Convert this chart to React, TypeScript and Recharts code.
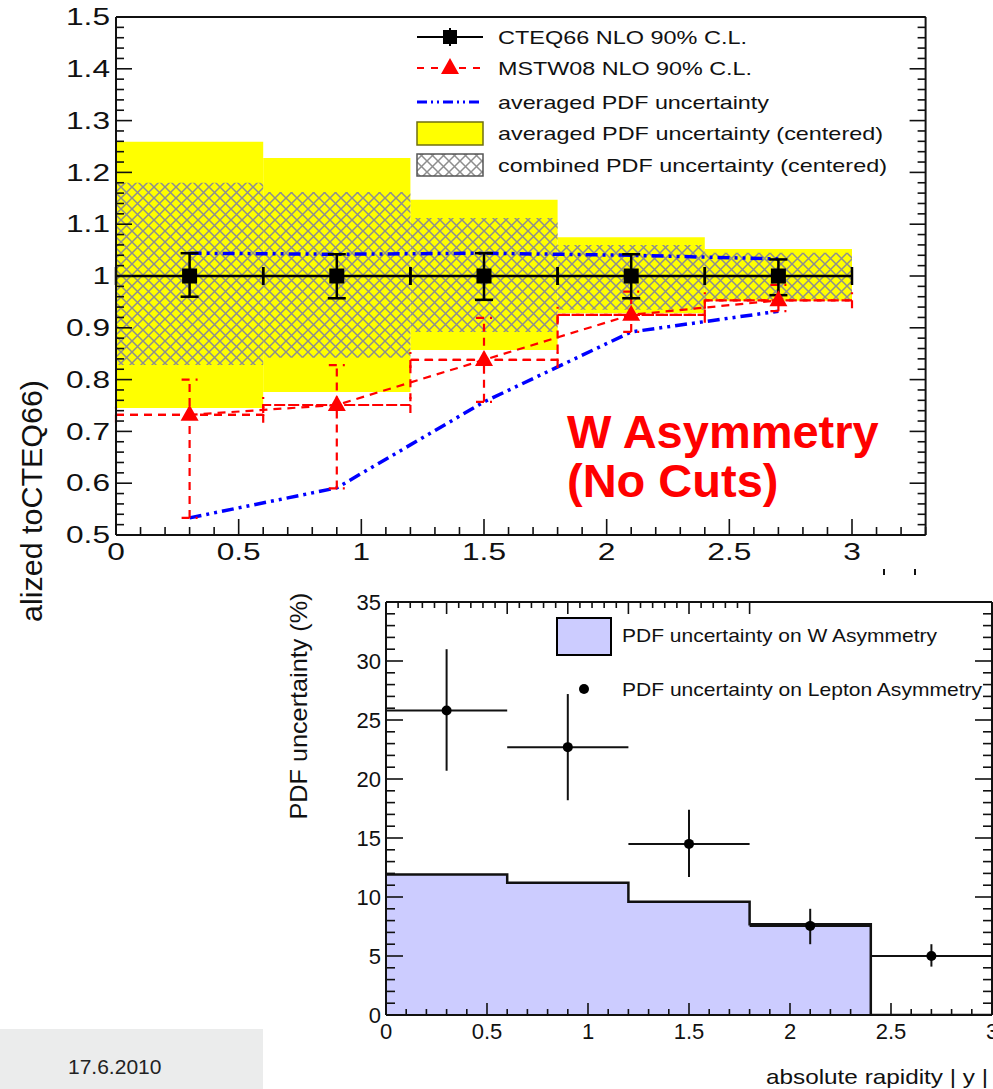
import React from 'react';
import {
  ComposedChart,
  Line,
  Scatter,
  ErrorBar,
  XAxis,
  YAxis,
  ReferenceArea,
  Area,
  Legend,
} from 'recharts';

const FONT = '"Liberation Sans", Arial, Helvetica, sans-serif';

// rapidity bins
const binEdges = [0, 0.6, 1.2, 1.8, 2.4, 3.0];
const binCenters = [0.3, 0.9, 1.5, 2.1, 2.7];
const binHalfWidth = [0.3, 0.3, 0.3, 0.3, 0.3];

// upper panel: W asymmetry normalised to CTEQ66
const cteqRatio = [1, 1, 1, 1, 1];
const cteqHigh = [1.044, 1.042, 1.044, 1.042, 1.032];
const cteqLow = [0.96, 0.957, 0.954, 0.957, 0.963];
const mstwRatio = [0.732, 0.751, 0.838, 0.925, 0.953];
const mstwHigh = [0.8, 0.828, 0.919, 0.97, 0.983];
const mstwLow = [0.533, 0.59, 0.757, 0.892, 0.932];
const avgUncHigh = [1.044, 1.042, 1.044, 1.04, 1.033];
const avgUncLow = [0.533, 0.591, 0.757, 0.892, 0.932];
const avgCenteredHigh = [1.259, 1.228, 1.147, 1.075, 1.052];
const avgCenteredLow = [0.745, 0.776, 0.857, 0.928, 0.952];
const combCenteredHigh = [1.18, 1.162, 1.112, 1.06, 1.045];
const combCenteredLow = [0.828, 0.842, 0.892, 0.935, 0.955];

// lower panel: PDF uncertainty in percent
const wAsymUnc = [11.9, 11.2, 9.6, 7.7, 0];
const leptonUnc = [25.8, 22.7, 14.5, 7.55, 5.0];
const leptonUncHigh = [31.0, 27.2, 17.4, 9.0, 6.0];
const leptonUncLow = [20.7, 18.2, 11.7, 6.0, 4.1];

// labelled (major) tick values
const topXMajor = [0, 0.5, 1, 1.5, 2, 2.5, 3];
const topYMajor = [0.5, 0.6, 0.7, 0.8, 0.9, 1, 1.1, 1.2, 1.3, 1.4, 1.5];
const botXMajor = [0, 0.5, 1, 1.5, 2, 2.5, 3];
const botYMajor = [0, 5, 10, 15, 20, 25, 30, 35];

const fineTicks = (lo: number, hi: number, step: number) => {
  const n = Math.round((hi - lo) / step);
  return Array.from({ length: n + 1 }, (_, i) => Number((lo + i * step).toFixed(4)));
};

const topXTicks = fineTicks(0, 3.3, 0.1);
const topYTicks = fineTicks(0.5, 1.5, 0.02);
const botXTicks = fineTicks(0, 3, 0.1);
const botYTicks = fineTicks(0, 35, 1);

// series tables built from the arrays above
const cteqPoints = binCenters.map((x, i) => ({
  x,
  y: cteqRatio[i],
  ey: [cteqRatio[i] - cteqLow[i], cteqHigh[i] - cteqRatio[i]],
  ex: binHalfWidth[i],
}));
const mstwPoints = binCenters.map((x, i) => ({
  x,
  y: mstwRatio[i],
  ey: [mstwRatio[i] - mstwLow[i], mstwHigh[i] - mstwRatio[i]],
  ex: binHalfWidth[i],
}));
const mstwSteps = binEdges.map((x, i) => ({ x, y: mstwRatio[Math.min(i, mstwRatio.length - 1)] }));
const avgHighLine = binCenters.map((x, i) => ({ x, y: avgUncHigh[i] }));
const avgLowLine = binCenters.map((x, i) => ({ x, y: avgUncLow[i] }));

const wAsymHist = binEdges.map((x, i) => ({ x, y: wAsymUnc[Math.min(i, wAsymUnc.length - 1)] }));
const leptonPoints = binCenters.map((x, i) => ({
  x,
  y: leptonUnc[i],
  ey: [leptonUnc[i] - leptonUncLow[i], leptonUncHigh[i] - leptonUnc[i]],
  ex: binHalfWidth[i],
}));

type Side = 'left' | 'right' | 'top' | 'bottom';
interface TickStyle {
  side: Side;
  majors: number[];
  majorLen: number;
  minorLen: number;
  label?: { size: number; stretch: number; gap: number; dy?: number };
}

// ROOT-style ticks: drawn inwards from the frame, labels only on major ticks
const makeTick = (s: TickStyle) => (props: any) => {
  const { x, y, payload } = props;
  const v = Number(payload.value);
  const major = s.majors.some((m) => Math.abs(m - v) < 1e-6);
  const len = major ? s.majorLen : s.minorLen;
  let x2 = x;
  let y2 = y;
  if (s.side === 'left') x2 = x + len;
  if (s.side === 'right') x2 = x - len;
  if (s.side === 'bottom') y2 = y - len;
  if (s.side === 'top') y2 = y + len;
  let label = null;
  if (major && s.label) {
    const text = String(Number(v.toFixed(2)));
    const lx = s.side === 'left' ? x - s.label.gap : x;
    const ly = (s.side === 'bottom' ? y + s.label.gap : y) + (s.label.dy || 0);
    label = (
      <g transform={`translate(${lx},${ly}) scale(${s.label.stretch},1)`}>
        <text
          x={0}
          y={0}
          textAnchor={s.side === 'left' ? 'end' : 'middle'}
          dominantBaseline="central"
          fontSize={s.label.size}
          fontFamily={FONT}
          fill="#111"
        >
          {text}
        </text>
      </g>
    );
  }
  return (
    <g>
      <line x1={x} y1={y} x2={x2} y2={y2} stroke="#111" strokeWidth={1.6} />
      {label}
    </g>
  );
};

const frame = { stroke: '#111', strokeWidth: 2 };

const redTriangle = (p: any) => (
  <polygon
    points={`${p.cx},${p.cy - 10} ${p.cx - 9},${p.cy + 6} ${p.cx + 9},${p.cy + 6}`}
    fill="#ff0000"
  />
);
const blackSquare = (p: any) => <rect x={p.cx - 7.5} y={p.cy - 7.5} width={15} height={15} fill="#000" />;
const blackDot = (p: any) => <circle cx={p.cx} cy={p.cy} r={5} fill="#000" />;

const legendText = (x: number, y: number, w: number, size: number, s: string) => (
  <text
    x={x}
    y={y}
    dominantBaseline="central"
    fontSize={size}
    fontFamily={FONT}
    fill="#111"
    textLength={w}
    lengthAdjust="spacingAndGlyphs"
  >
    {s}
  </text>
);

const TopLegendBox = () => (
  <svg width={500} height={170} style={{ display: 'block', overflow: 'visible' }}>
    <line x1={12} y1={19} x2={78} y2={19} stroke="#000" strokeWidth={2} />
    <line x1={45} y1={10} x2={45} y2={28} stroke="#000" strokeWidth={2} />
    <rect x={38} y={12} width={14} height={14} fill="#000" />
    {legendText(93, 19, 249, 19, 'CTEQ66 NLO 90% C.L.')}

    <line x1={12} y1={50} x2={78} y2={50} stroke="#ff0000" strokeWidth={2} strokeDasharray="7 7" />
    <polygon points="45,40 36,56 54,56" fill="#ff0000" />
    {legendText(93, 50, 254, 19, 'MSTW08 NLO 90% C.L.')}

    <line x1={12} y1={84} x2={78} y2={84} stroke="#0000ff" strokeWidth={3} strokeDasharray="10 4 2 4 2 4" />
    {legendText(93, 84, 271, 19, 'averaged PDF uncertainty')}

    <rect x={12} y={104} width={66} height={23} fill="#ffff00" stroke="#6f6f10" strokeWidth={1.5} />
    {legendText(93, 115, 385, 19, 'averaged PDF uncertainty (centered)')}

    <rect x={12} y={136} width={66} height={22} fill="#fff" />
    <rect x={12} y={136} width={66} height={22} fill="url(#xhatch)" stroke="#555" strokeWidth={1.5} />
    {legendText(93, 147, 389, 19, 'combined PDF uncertainty (centered)')}
  </svg>
);

const BottomLegendBox = () => (
  <svg width={450} height={100} style={{ display: 'block', overflow: 'visible' }}>
    <rect x={10} y={10} width={54} height={37} fill="#ccccff" stroke="#000" strokeWidth={2} />
    {legendText(75, 27, 315, 19, 'PDF uncertainty on W Asymmetry')}
    <circle cx={37} cy={81} r={5} fill="#000" />
    {legendText(75, 81, 360, 19, 'PDF uncertainty on Lepton Asymmetry')}
  </svg>
);

const TOP_W = 993;
const TOP_H = 640;

const TopChart = () => (
  <ComposedChart
    width={TOP_W}
    height={TOP_H}
    margin={{ top: 16, right: TOP_W - 925.6 - 1, bottom: TOP_H - 535 - 1, left: 0 }}
  >
    <XAxis
      type="number"
      dataKey="x"
      domain={[0, 3.3]}
      allowDataOverflow
      ticks={topXTicks}
      interval={0}
      tickSize={0}
      tickMargin={0}
      tickLine={false}
      axisLine={frame}
      height={1}
      tick={makeTick({ side: 'bottom', majors: topXMajor, majorLen: 16, minorLen: 8, label: { size: 24, stretch: 1.32, gap: 17 } })}
    />
    <XAxis
      xAxisId="mt"
      orientation="top"
      type="number"
      domain={[0, 3.3]}
      allowDataOverflow
      ticks={topXTicks}
      interval={0}
      tickSize={0}
      tickMargin={0}
      tickLine={false}
      axisLine={frame}
      height={1}
      tick={makeTick({ side: 'top', majors: topXMajor, majorLen: 16, minorLen: 8 })}
    />
    <YAxis
      type="number"
      domain={[0.5, 1.5]}
      allowDataOverflow
      ticks={topYTicks}
      interval={0}
      tickSize={0}
      tickMargin={0}
      tickLine={false}
      axisLine={frame}
      width={116}
      tick={makeTick({ side: 'left', majors: topYMajor, majorLen: 16, minorLen: 8, label: { size: 24, stretch: 1.32, gap: 6 } })}
    />
    <YAxis
      yAxisId="mr"
      orientation="right"
      type="number"
      domain={[0.5, 1.5]}
      allowDataOverflow
      ticks={topYTicks}
      interval={0}
      tickSize={0}
      tickMargin={0}
      tickLine={false}
      axisLine={frame}
      width={1}
      tick={makeTick({ side: 'right', majors: topYMajor, majorLen: 16, minorLen: 8 })}
    />

    {binCenters.map((_, i) => (
      <ReferenceArea
        key={`avg-${i}`}
        x1={binEdges[i]}
        x2={binEdges[i + 1]}
        y1={avgCenteredLow[i]}
        y2={avgCenteredHigh[i]}
        fill="#ffff00"
        fillOpacity={1}
        stroke="none"
      />
    ))}
    {binCenters.map((_, i) => (
      <ReferenceArea
        key={`comb-${i}`}
        x1={binEdges[i]}
        x2={binEdges[i + 1]}
        y1={combCenteredLow[i]}
        y2={combCenteredHigh[i]}
        fill="url(#xhatch)"
        fillOpacity={1}
        stroke="none"
      />
    ))}

    <Line data={avgHighLine} dataKey="y" stroke="#0000ff" strokeWidth={3.5} strokeDasharray="12 5 3 5 3 5" dot={false} isAnimationActive={false} />
    <Line data={avgLowLine} dataKey="y" stroke="#0000ff" strokeWidth={3.5} strokeDasharray="12 5 3 5 3 5" dot={false} isAnimationActive={false} />

    <Line data={mstwSteps} dataKey="y" type="stepAfter" stroke="#ff0000" strokeWidth={2.2} strokeDasharray="8 6" dot={false} isAnimationActive={false} />
    <Line data={mstwPoints} dataKey="y" stroke="#ff0000" strokeWidth={2.2} strokeDasharray="8 6" dot={false} isAnimationActive={false} />
    <Scatter data={mstwPoints} dataKey="y" shape={redTriangle} isAnimationActive={false}>
      <ErrorBar dataKey="ey" direction="y" width={8} stroke="#ff0000" strokeWidth={2.2} strokeDasharray="8 6" />
      <ErrorBar dataKey="ex" direction="x" width={8} stroke="#ff0000" strokeWidth={2.2} strokeDasharray="8 6" />
    </Scatter>

    <Scatter data={cteqPoints} dataKey="y" shape={blackSquare} isAnimationActive={false}>
      <ErrorBar dataKey="ey" direction="y" width={9} stroke="#000" strokeWidth={2.5} />
      <ErrorBar dataKey="ex" direction="x" width={9} stroke="#000" strokeWidth={2.5} />
    </Scatter>

    <Legend
      layout="horizontal"
      verticalAlign="middle"
      align="center"
      content={() => <TopLegendBox />}
      wrapperStyle={{ left: 405, top: 18, width: 500, height: 170 }}
    />
  </ComposedChart>
);

const BOT_W = 713;
const BOT_H = 507;

const BottomChart = () => (
  <ComposedChart
    width={BOT_W}
    height={BOT_H}
    data={wAsymHist}
    margin={{ top: 19, right: 0, bottom: 73, left: 0 }}
  >
    <XAxis
      type="number"
      dataKey="x"
      domain={[0, 3]}
      allowDataOverflow
      ticks={botXTicks}
      interval={0}
      tickSize={0}
      tickMargin={0}
      tickLine={false}
      axisLine={frame}
      height={1}
      tick={makeTick({ side: 'bottom', majors: botXMajor, majorLen: 12, minorLen: 6, label: { size: 22, stretch: 1, gap: 16 } })}
    />
    <XAxis
      xAxisId="mt"
      orientation="top"
      type="number"
      domain={[0, 3]}
      allowDataOverflow
      ticks={botXTicks}
      interval={0}
      tickSize={0}
      tickMargin={0}
      tickLine={false}
      axisLine={frame}
      height={1}
      tick={makeTick({ side: 'top', majors: botXMajor, majorLen: 12, minorLen: 6 })}
    />
    <YAxis
      type="number"
      domain={[0, 35]}
      allowDataOverflow
      ticks={botYTicks}
      interval={0}
      tickSize={0}
      tickMargin={0}
      tickLine={false}
      axisLine={frame}
      width={106}
      tick={makeTick({ side: 'left', majors: botYMajor, majorLen: 17, minorLen: 9, label: { size: 22, stretch: 1, gap: 5 } })}
    />
    <YAxis
      yAxisId="mr"
      orientation="right"
      type="number"
      domain={[0, 35]}
      allowDataOverflow
      ticks={botYTicks}
      interval={0}
      tickSize={0}
      tickMargin={0}
      tickLine={false}
      axisLine={frame}
      width={1}
      tick={makeTick({ side: 'right', majors: botYMajor, majorLen: 17, minorLen: 9 })}
    />

    <Area
      type="stepAfter"
      dataKey="y"
      baseValue={0}
      fill="#ccccff"
      fillOpacity={1}
      stroke="#111"
      strokeWidth={2.5}
      dot={false}
      activeDot={false}
      isAnimationActive={false}
    />

    <Scatter data={leptonPoints} dataKey="y" shape={blackDot} isAnimationActive={false}>
      <ErrorBar dataKey="ey" direction="y" width={0} stroke="#111" strokeWidth={2} />
      <ErrorBar dataKey="ex" direction="x" width={0} stroke="#111" strokeWidth={2} />
    </Scatter>

    <Legend
      layout="horizontal"
      verticalAlign="middle"
      align="center"
      content={() => <BottomLegendBox />}
      wrapperStyle={{ left: 267, top: 26, width: 450, height: 100 }}
    />
  </ComposedChart>
);

export default function App() {
  return (
    <div style={{ position: 'absolute', left: 0, top: 0, width: 993, height: 1089, background: '#fff', overflow: 'hidden' }}>
      <svg width={0} height={0} style={{ position: 'absolute' }}>
        <defs>
          <pattern id="xhatch" width={11} height={11} patternUnits="userSpaceOnUse">
            <path d="M-1,-1 L12,12 M12,-1 L-1,12" stroke="#8e8e8e" strokeWidth={1.5} fill="none" />
          </pattern>
        </defs>
      </svg>

      <div style={{ position: 'absolute', left: 0, top: 0 }}>
        <TopChart />
      </div>

      <svg width={993} height={640} style={{ position: 'absolute', left: 0, top: 0, pointerEvents: 'none' }}>
        <text
          transform="translate(31,501) rotate(-90)"
          textAnchor="middle"
          dominantBaseline="central"
          fontSize={30}
          fontFamily={FONT}
          fill="#111"
          textLength={242}
          lengthAdjust="spacingAndGlyphs"
        >
          alized toCTEQ66)
        </text>
        <text x={567} y={448} fontSize={47} fontWeight="bold" fontFamily={FONT} fill="#ff0000">
          W Asymmetry
        </text>
        <text x={567} y={497} fontSize={47} fontWeight="bold" fontFamily={FONT} fill="#ff0000">
          (No Cuts)
        </text>
      </svg>

      <div style={{ position: 'absolute', left: 883, top: 569, width: 2, height: 6, background: '#111' }} />
      <div style={{ position: 'absolute', left: 914, top: 569, width: 2, height: 6, background: '#111' }} />

      <div style={{ position: 'absolute', left: 280, top: 582, width: BOT_W, height: BOT_H, background: '#fff' }}>
        <BottomChart />
        <svg width={BOT_W} height={BOT_H} style={{ position: 'absolute', left: 0, top: 0, pointerEvents: 'none' }}>
          <text
            transform="translate(18,124) rotate(-90)"
            textAnchor="middle"
            dominantBaseline="central"
            fontSize={24}
            fontFamily={FONT}
            fill="#111"
            textLength={227}
            lengthAdjust="spacingAndGlyphs"
          >
            PDF uncertainty (%)
          </text>
          <text
            x={486}
            y={494}
            dominantBaseline="central"
            fontSize={21}
            fontFamily={FONT}
            fill="#111"
            textLength={222}
            lengthAdjust="spacingAndGlyphs"
          >
            absolute rapidity  | y |
          </text>
        </svg>
      </div>

      <div
        style={{
          position: 'absolute',
          left: 0,
          top: 1029,
          width: 263,
          height: 60,
          background: '#ebecec',
        }}
      >
        <span
          style={{
            position: 'absolute',
            left: 68,
            top: 27,
            fontSize: 21,
            lineHeight: '22px',
            fontFamily: FONT,
            color: '#222',
          }}
        >
          17.6.2010
        </span>
      </div>
    </div>
  );
}
